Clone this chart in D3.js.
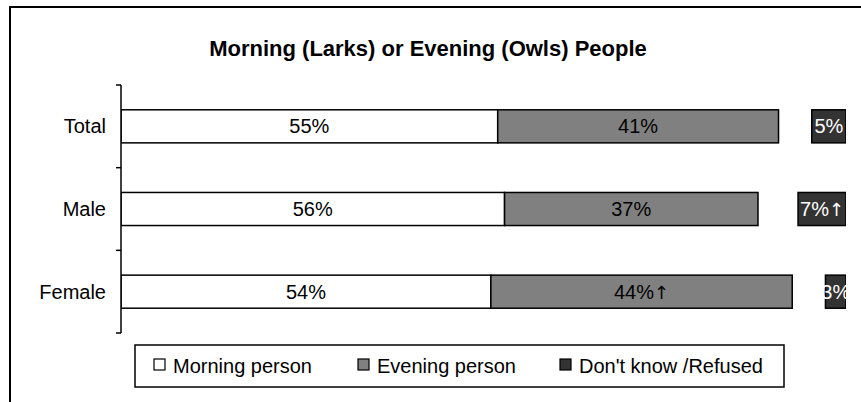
<!DOCTYPE html>
<html><head><meta charset="utf-8">
<script src="https://cdn.jsdelivr.net/npm/d3@7"></script>
<style>body{margin:0;background:#fff}svg{display:block}</style>
</head><body>
<svg id="c" width="861" height="402"></svg>
<script>
const categories = ["Total", "Male", "Female"];
const morning = [55, 56, 54];
const evening = [41, 37, 44];
const dontKnow = [5, 7, 3];
const morningLabels = ["55%", "56%", "54%"];
const eveningLabels = ["41%", "37%", "44%\u2191"];
const dkLabels = ["5%", "7%\u2191", "3%"];
const seriesNames = ["Morning person", "Evening person", "Don't know /Refused"];
const title = "Morning (Larks) or Evening (Owls) People";

const colors = ["#ffffff", "#808080", "#333333"];
const font = "'Liberation Sans', Arial, sans-serif";
const fs = 20;
const svg = d3.select("#c");

// frame
svg.append("rect").attr("x", 10).attr("y", 7).attr("width", 900).attr("height", 450)
  .attr("fill", "none").attr("stroke", "#000").attr("stroke-width", 2);

svg.append("text").attr("x", 428).attr("y", 56).attr("text-anchor", "middle")
  .attr("font-family", font).attr("font-size", 22).attr("font-weight", "bold").text(title);

const xMax = 105.85;
const x = d3.scaleLinear().domain([0, xMax]).range([121, 846]);
const y = d3.scaleBand().domain(categories).range([85, 333]).paddingInner(0.6).paddingOuter(0.3);

svg.append("defs").append("clipPath").attr("id", "plot")
  .append("rect").attr("x", 121).attr("y", 80).attr("width", 846 - 121).attr("height", 260);

const g = svg.append("g").attr("clip-path", "url(#plot)");

const rows = categories.map((c, i) => ({
  c,
  segs: [
    {x0: 0, x1: morning[i], fill: colors[0], label: morningLabels[i], tc: "#000"},
    {x0: morning[i], x1: morning[i] + evening[i], fill: colors[1], label: eveningLabels[i], tc: "#000"},
    {x0: xMax - dontKnow[i], x1: xMax, fill: colors[2], label: dkLabels[i], tc: "#fff"}
  ]
}));

function addLabel(sel, label) {
  const parts = label.split("\u2191");
  sel.append("tspan").text(parts[0]);
  if (parts.length > 1) {
    sel.append("tspan").attr("font-family", "'DejaVu Sans', sans-serif").attr("font-size", 18).text("\u2191");
  }
}

rows.forEach(r => {
  r.segs.forEach(s => {
    g.append("rect").attr("x", x(s.x0)).attr("y", y(r.c))
      .attr("width", x(s.x1) - x(s.x0)).attr("height", y.bandwidth())
      .attr("fill", s.fill).attr("stroke", "#000").attr("stroke-width", 1.5);
    const t = g.append("text").attr("x", (x(s.x0) + x(s.x1)) / 2).attr("y", y(r.c) + y.bandwidth() / 2 + 7)
      .attr("text-anchor", "middle").attr("font-family", font).attr("font-size", fs)
      .attr("fill", s.tc);
    addLabel(t, s.label);
  });
});

// axis
const step = y.step();
const axisTop = 85;
svg.append("line").attr("x1", 121).attr("x2", 121).attr("y1", axisTop).attr("y2", 333)
  .attr("stroke", "#000").attr("stroke-width", 1.5);
d3.range(categories.length + 1).forEach(i => {
  const yy = axisTop + i * step;
  svg.append("line").attr("x1", 116).attr("x2", 121).attr("y1", yy).attr("y2", yy)
    .attr("stroke", "#000").attr("stroke-width", 1.5);
});
categories.forEach(c => {
  svg.append("text").attr("x", 106).attr("y", y(c) + y.bandwidth() / 2 + 7)
    .attr("text-anchor", "end").attr("font-family", font).attr("font-size", fs).text(c);
});

// legend
svg.append("rect").attr("x", 135).attr("y", 345).attr("width", 649).attr("height", 42)
  .attr("fill", "#fff").attr("stroke", "#000").attr("stroke-width", 1.5);
const lx = [154, 358, 560];
seriesNames.forEach((n, i) => {
  svg.append("rect").attr("x", lx[i]).attr("y", 359).attr("width", 11).attr("height", 11)
    .attr("fill", colors[i]).attr("stroke", "#000").attr("stroke-width", 1.2);
  svg.append("text").attr("x", lx[i] + 19).attr("y", 373).attr("font-family", font)
    .attr("font-size", fs).text(n);
});
</script>
</body></html>
